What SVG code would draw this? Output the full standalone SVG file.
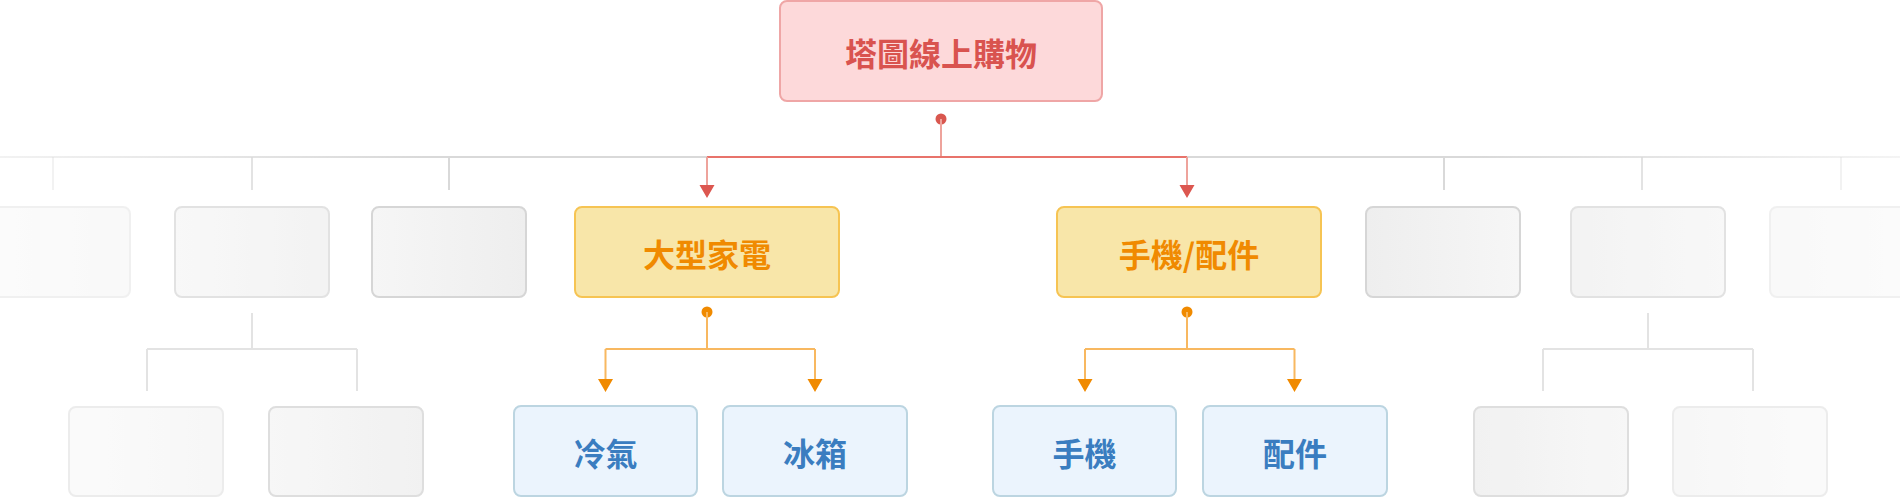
<svg xmlns="http://www.w3.org/2000/svg" width="1900" height="497" viewBox="0 0 1900 497">
<defs>
<style>
.t{font-family:"Noto Sans CJK TC","Noto Sans CJK SC",sans-serif;font-weight:700;font-size:32px;text-anchor:middle;dominant-baseline:central}
.root rect{fill:#fdd9da;stroke:#efa6a6;stroke-width:2}
.root text{fill:#d9534f}
.l2 rect{fill:#f8e6a9;stroke:#f6c453;stroke-width:2}
.l2 text{fill:#f08a00}
.l3 rect{fill:#ebf4fd;stroke:#bcd5e1;stroke-width:2}
.l3 text{fill:#3a7dc0}
.gL rect{fill:url(#gradL);stroke:#d6d6d6;stroke-width:2}
.gR rect{fill:url(#gradR);stroke:#d6d6d6;stroke-width:2}
.gl{stroke:#d9d9d9;stroke-width:2;fill:none}
.red{stroke:#e8736b;stroke-width:2;fill:none}
.redv{stroke:#eea39c;stroke-width:2;fill:none}
.org{stroke:#f8b860;stroke-width:2;fill:none}
</style>
<linearGradient id="gradL" x1="0" y1="0" x2="1" y2="0">
<stop offset="0" stop-color="#f6f6f6"/><stop offset="1" stop-color="#eeeeee"/>
</linearGradient>
<linearGradient id="gradR" x1="0" y1="0" x2="1" y2="0">
<stop offset="0" stop-color="#eeeeee"/><stop offset="1" stop-color="#f6f6f6"/>
</linearGradient>
<linearGradient id="lineL" gradientUnits="userSpaceOnUse" x1="0" y1="0" x2="707" y2="0">
<stop offset="0" stop-color="#f2f2f2"/><stop offset="0.6" stop-color="#d9d9d9"/><stop offset="1" stop-color="#d9d9d9"/>
</linearGradient>
<linearGradient id="lineR" gradientUnits="userSpaceOnUse" x1="1187" y1="0" x2="1900" y2="0">
<stop offset="0" stop-color="#d9d9d9"/><stop offset="0.4" stop-color="#d9d9d9"/><stop offset="1" stop-color="#f4f4f4"/>
</linearGradient>
</defs>

<g id="connectors">
<line x1="0" y1="157" x2="707" y2="157" stroke="url(#lineL)" stroke-width="2"/>
<line x1="1187" y1="157" x2="1900" y2="157" stroke="url(#lineR)" stroke-width="2"/>
<line class="gl" x1="53" y1="157" x2="53" y2="190" opacity="0.35"/>
<line class="gl" x1="252" y1="157" x2="252" y2="190" opacity="0.75"/>
<line class="gl" x1="449" y1="157" x2="449" y2="190"/>
<line class="gl" x1="1444" y1="157" x2="1444" y2="190"/>
<line class="gl" x1="1642" y1="157" x2="1642" y2="190" opacity="0.75"/>
<line class="gl" x1="1841" y1="157" x2="1841" y2="190" opacity="0.35"/>

<path class="gl" d="M252 313 V349 M147 349 H357 M147 349 V391 M357 349 V391" opacity="0.75"/>
<path class="gl" d="M1648 313 V349 M1543 349 H1753 M1543 349 V391 M1753 349 V391" opacity="0.75"/>

<circle cx="941" cy="119" r="5.5" fill="#d9574f"/>
<line class="redv" x1="941" y1="119" x2="941" y2="157"/>
<line class="red" x1="707" y1="157" x2="1187" y2="157"/>
<path class="redv" d="M707 157 V186 M1187 157 V186"/>
<path d="M699.5 185 L714.5 185 L707 198 Z M1179.5 185 L1194.5 185 L1187 198 Z" fill="#dc5750"/>

<circle cx="707" cy="312" r="5.5" fill="#f08a00"/>
<path class="org" d="M707 312 V349 M605.5 349 H815 M605.5 349 V380 M815 349 V380"/>
<path d="M598 379 L613 379 L605.5 392 Z M807.5 379 L822.5 379 L815 392 Z" fill="#f08a00"/>
<circle cx="1187" cy="312" r="5.5" fill="#f08a00"/>
<path class="org" d="M1187 312 V349 M1085 349 H1294.5 M1085 349 V380 M1294.5 349 V380"/>
<path d="M1077.5 379 L1092.5 379 L1085 392 Z M1287 379 L1302 379 L1294.5 392 Z" fill="#f08a00"/>
</g>

<g id="root" class="root"><rect x="780" y="1" width="322" height="100" rx="7"/><text class="t" x="941" y="52">塔圖線上購物</text></g>

<g id="g2a" class="gL" opacity="0.35"><rect x="-24" y="207" width="154" height="90" rx="7"/></g>
<g id="g2b" class="gL" opacity="0.7"><rect x="175" y="207" width="154" height="90" rx="7"/></g>
<g id="g2c" class="gL"><rect x="372" y="207" width="154" height="90" rx="7"/></g>
<g id="n-appliance" class="l2"><rect x="575" y="207" width="264" height="90" rx="7"/><text class="t" x="707" y="253">大型家電</text></g>
<g id="n-phone-acc" class="l2"><rect x="1057" y="207" width="264" height="90" rx="7"/><text class="t" x="1189" y="253">手機/配件</text></g>
<g id="g2d" class="gR"><rect x="1366" y="207" width="154" height="90" rx="7"/></g>
<g id="g2e" class="gR" opacity="0.7"><rect x="1571" y="207" width="154" height="90" rx="7"/></g>
<g id="g2f" class="gR" opacity="0.35"><rect x="1770" y="207" width="154" height="90" rx="7"/></g>

<g id="g3a" class="gL" opacity="0.45"><rect x="69" y="407" width="154" height="89" rx="7"/></g>
<g id="g3b" class="gL" opacity="0.8"><rect x="269" y="407" width="154" height="89" rx="7"/></g>
<g id="n-ac" class="l3"><rect x="514" y="406" width="183" height="90" rx="7"/><text class="t" x="605.5" y="452">冷氣</text></g>
<g id="n-fridge" class="l3"><rect x="723" y="406" width="184" height="90" rx="7"/><text class="t" x="815" y="452">冰箱</text></g>
<g id="n-phone" class="l3"><rect x="993" y="406" width="183" height="90" rx="7"/><text class="t" x="1084.5" y="452">手機</text></g>
<g id="n-acc" class="l3"><rect x="1203" y="406" width="184" height="90" rx="7"/><text class="t" x="1295" y="452">配件</text></g>
<g id="g3c" class="gR" opacity="0.8"><rect x="1474" y="407" width="154" height="89" rx="7"/></g>
<g id="g3d" class="gR" opacity="0.45"><rect x="1673" y="407" width="154" height="89" rx="7"/></g>
</svg>
